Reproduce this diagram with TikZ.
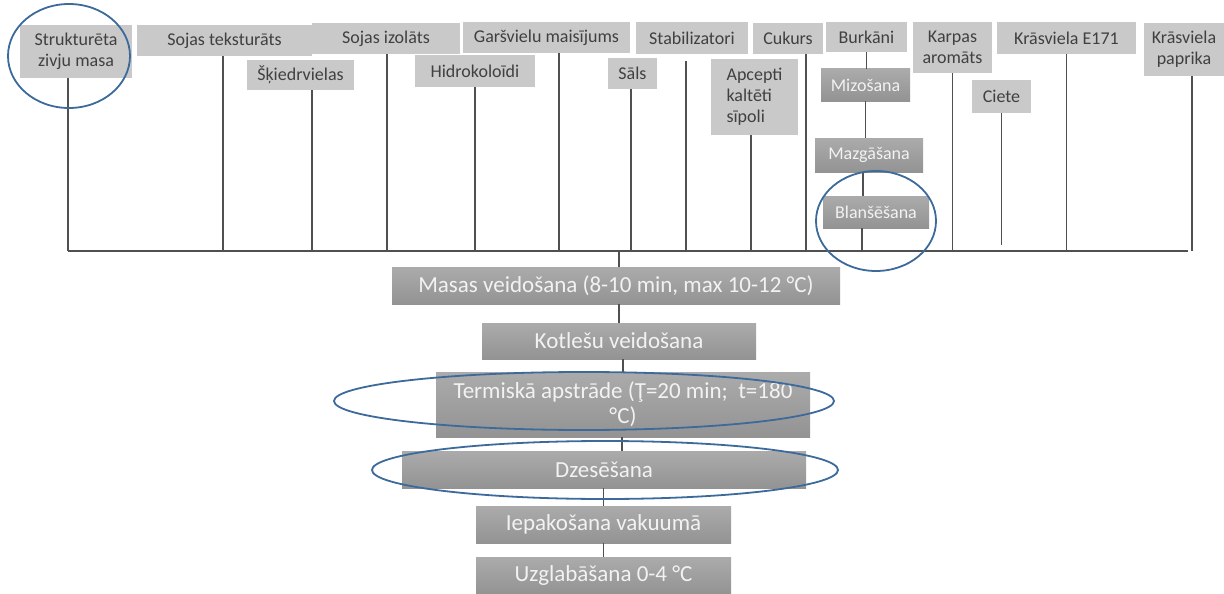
\documentclass[tikz,border=0pt]{standalone}
\usepackage{fontspec}
\setmainfont{Carlito}
\usepackage{xcolor}
\usepackage{tikz}

\definecolor{boxlight}{HTML}{C9C9C9}
\definecolor{boxdark}{HTML}{ABABAB}
\definecolor{boxdarker}{HTML}{939393}
\definecolor{txtdark}{HTML}{404040}
\definecolor{txtlight}{HTML}{F2F2F2}
\definecolor{linegray}{HTML}{505050}
\definecolor{ringblue}{HTML}{3C6A9B}

\begin{document}
\begin{tikzpicture}[x=1pt, y=-1pt,
  ingr/.style={rectangle, fill=boxlight, text=txtdark, inner sep=0pt,
               align=center, font=\fontsize{18}{21}\selectfont},
  prep/.style={rectangle, top color=boxdark, bottom color=boxdarker, text=txtlight,
               inner sep=0pt, align=center, font=\fontsize{18}{21}\selectfont},
  stage/.style={prep, font=\fontsize{23}{25}\selectfont},
  link/.style={draw=linegray, line width=1.2pt},
  ring/.style={draw=ringblue, line width=1.8pt},
]
\useasboundingbox (0,0) rectangle (1224,594);

% raw materials along the top
\node[ingr, minimum width=112pt, minimum height=53pt] (struk) at (76,51.5)   {Strukturēta\\zivju masa};
\node[ingr, minimum width=175pt, minimum height=31pt] (sojtek) at (224.5,40.5) {Sojas teksturāts};
\node[ingr, minimum width=107pt, minimum height=30pt] (skied) at (300.5,75)  {Šķiedrvielas};
\node[ingr, minimum width=148pt, minimum height=31pt] (sojiz) at (386,38.5)   {Sojas izolāts};
\node[ingr, minimum width=120pt, minimum height=32pt] (hidro) at (475,71)     {Hidrokoloīdi};
\node[ingr, minimum width=167pt, minimum height=31pt] (garsv) at (546.5,37.5) {Garšvielu maisījums};
\node[ingr, minimum width=49pt,  minimum height=31pt] (sals)  at (632.5,73.5) {Sāls};
\node[ingr, minimum width=112pt, minimum height=32pt] (stab)  at (692,38)     {Stabilizatori};
\node[ingr, minimum width=87pt,  minimum height=76pt, align=left] (apc) at (754.5,97) {Apcepti\\kaltēti\\sīpoli};
\node[ingr, minimum width=70pt,  minimum height=31pt] (cuk)   at (788,38.5)   {Cukurs};
\node[ingr, minimum width=81pt,  minimum height=30pt] (burk)  at (866.5,37)   {Burkāni};
\node[ingr, minimum width=79pt,  minimum height=51pt] (karp)  at (952.5,47.5) {Karpas\\aromāts};
\node[ingr, minimum width=59pt,  minimum height=33pt] (ciete) at (1001.5,96.5) {Ciete};
\node[ingr, minimum width=139pt, minimum height=32pt] (e171)  at (1066.5,38)  {Krāsviela E171};
\node[ingr, minimum width=80pt,  minimum height=53pt] (papr)  at (1184,49.5)  {Krāsviela\\paprika};

% carrot pre-treatment
\node[prep, minimum width=89pt,  minimum height=32pt] (miz)  at (865.5,85) {Mizošana};
\node[prep, minimum width=108pt, minimum height=34pt] (mazg) at (869,155)  {Mazgāšana};
\node[prep, minimum width=106pt, minimum height=32pt] (blan) at (876,212)  {Blanšēšana};

% main process line
\node[stage, minimum width=448pt, minimum height=37pt] (masas) at (616,285.5)   {Masas veidošana (8-10 min, max 10-12 °C)};
\node[stage, minimum width=274pt, minimum height=36pt] (kotl)  at (619,341)     {Kotlešu veidošana};
\node[stage, minimum width=374pt, minimum height=65pt] (term)  at (623,404.5)   {Termiskā apstrāde (Ţ=20 min;\ \ t=180\\°C)};
\node[stage, minimum width=404pt, minimum height=37pt] (dzes)  at (604,469.5)   {Dzesēšana};
\node[stage, minimum width=255pt, minimum height=37pt] (iepak) at (603.5,524.5) {Iepakošana vakuumā};
\node[stage, minimum width=255pt, minimum height=37pt] (uzgl)  at (603.5,575.5) {Uzglabāšana 0-4 °C};

% collecting line
\coordinate (bl) at (68,251);
\coordinate (br) at (1188,251);
\draw[link] (bl) -- (br);

\draw[link] ([xshift=-8pt]struk.south) -- ([xshift=-8pt]struk.south |- bl);
\draw[link] ([xshift=-1.5pt]sojtek.south) -- ([xshift=-1.5pt]sojtek.south |- bl);
\draw[link] ([xshift=11.5pt]skied.south) -- ([xshift=11.5pt]skied.south |- bl);
\draw[link] ([xshift=1pt]sojiz.south) -- ([xshift=1pt]sojiz.south |- bl);
\draw[link] (hidro.south) -- (hidro.south |- bl);
\draw[link] ([xshift=12.5pt]garsv.south) -- ([xshift=12.5pt]garsv.south |- bl);
\draw[link] ([xshift=-1.5pt]sals.south) -- ([xshift=-1.5pt]sals.south |- bl);
\draw[link] ([xshift=-6pt,yshift=-7pt]stab.south) -- ([xshift=-6pt]stab.south |- bl);
\draw[link] ([xshift=-3.5pt]apc.south) -- ([xshift=-3.5pt]apc.south |- bl);
\draw[link] ([xshift=18pt]cuk.south) -- ([xshift=18pt]cuk.south |- bl);
\draw[link] (karp.south) -- (karp.south |- bl);
\draw[link] (ciete.south) -- ([yshift=6pt]ciete.south |- bl);
\draw[link] (e171.south) -- (e171.south |- bl);
\draw[link] ([xshift=8pt]papr.south) -- ([xshift=8pt]papr.south |- br);

\draw[link] (burk.south) -- (burk.south |- miz.north);
\draw[link] (miz.south) -- (miz.south |- mazg.north);
\draw[link] ([xshift=-6pt]mazg.south) -- ([xshift=-6pt]mazg.south |- blan.north);
\draw[link] ([xshift=-14pt]blan.south) -- ([xshift=-14pt]blan.south |- bl);

\draw[link] ([xshift=3pt]masas.north) -- ([xshift=3pt]masas.north |- bl);
\draw[link] (kotl.north) -- (kotl.north |- masas.south);
\draw[link] (term.north) -- (term.north |- kotl.south);
\draw[link] ([xshift=18pt]dzes.north) -- ([xshift=18pt]dzes.north |- term.south);
\draw[link] (iepak.north) -- (iepak.north |- dzes.south);
\draw[link] (uzgl.north) -- (uzgl.north |- iepak.south);

% highlighted steps
\draw[ring] (69,56) ellipse [x radius=61, y radius=52];
\draw[ring] (876,221) ellipse [x radius=60, y radius=50];
\draw[ring] (584,401) ellipse [x radius=250, y radius=29];
\draw[ring] (605,470) ellipse [x radius=233, y radius=29];
\end{tikzpicture}
\end{document}
